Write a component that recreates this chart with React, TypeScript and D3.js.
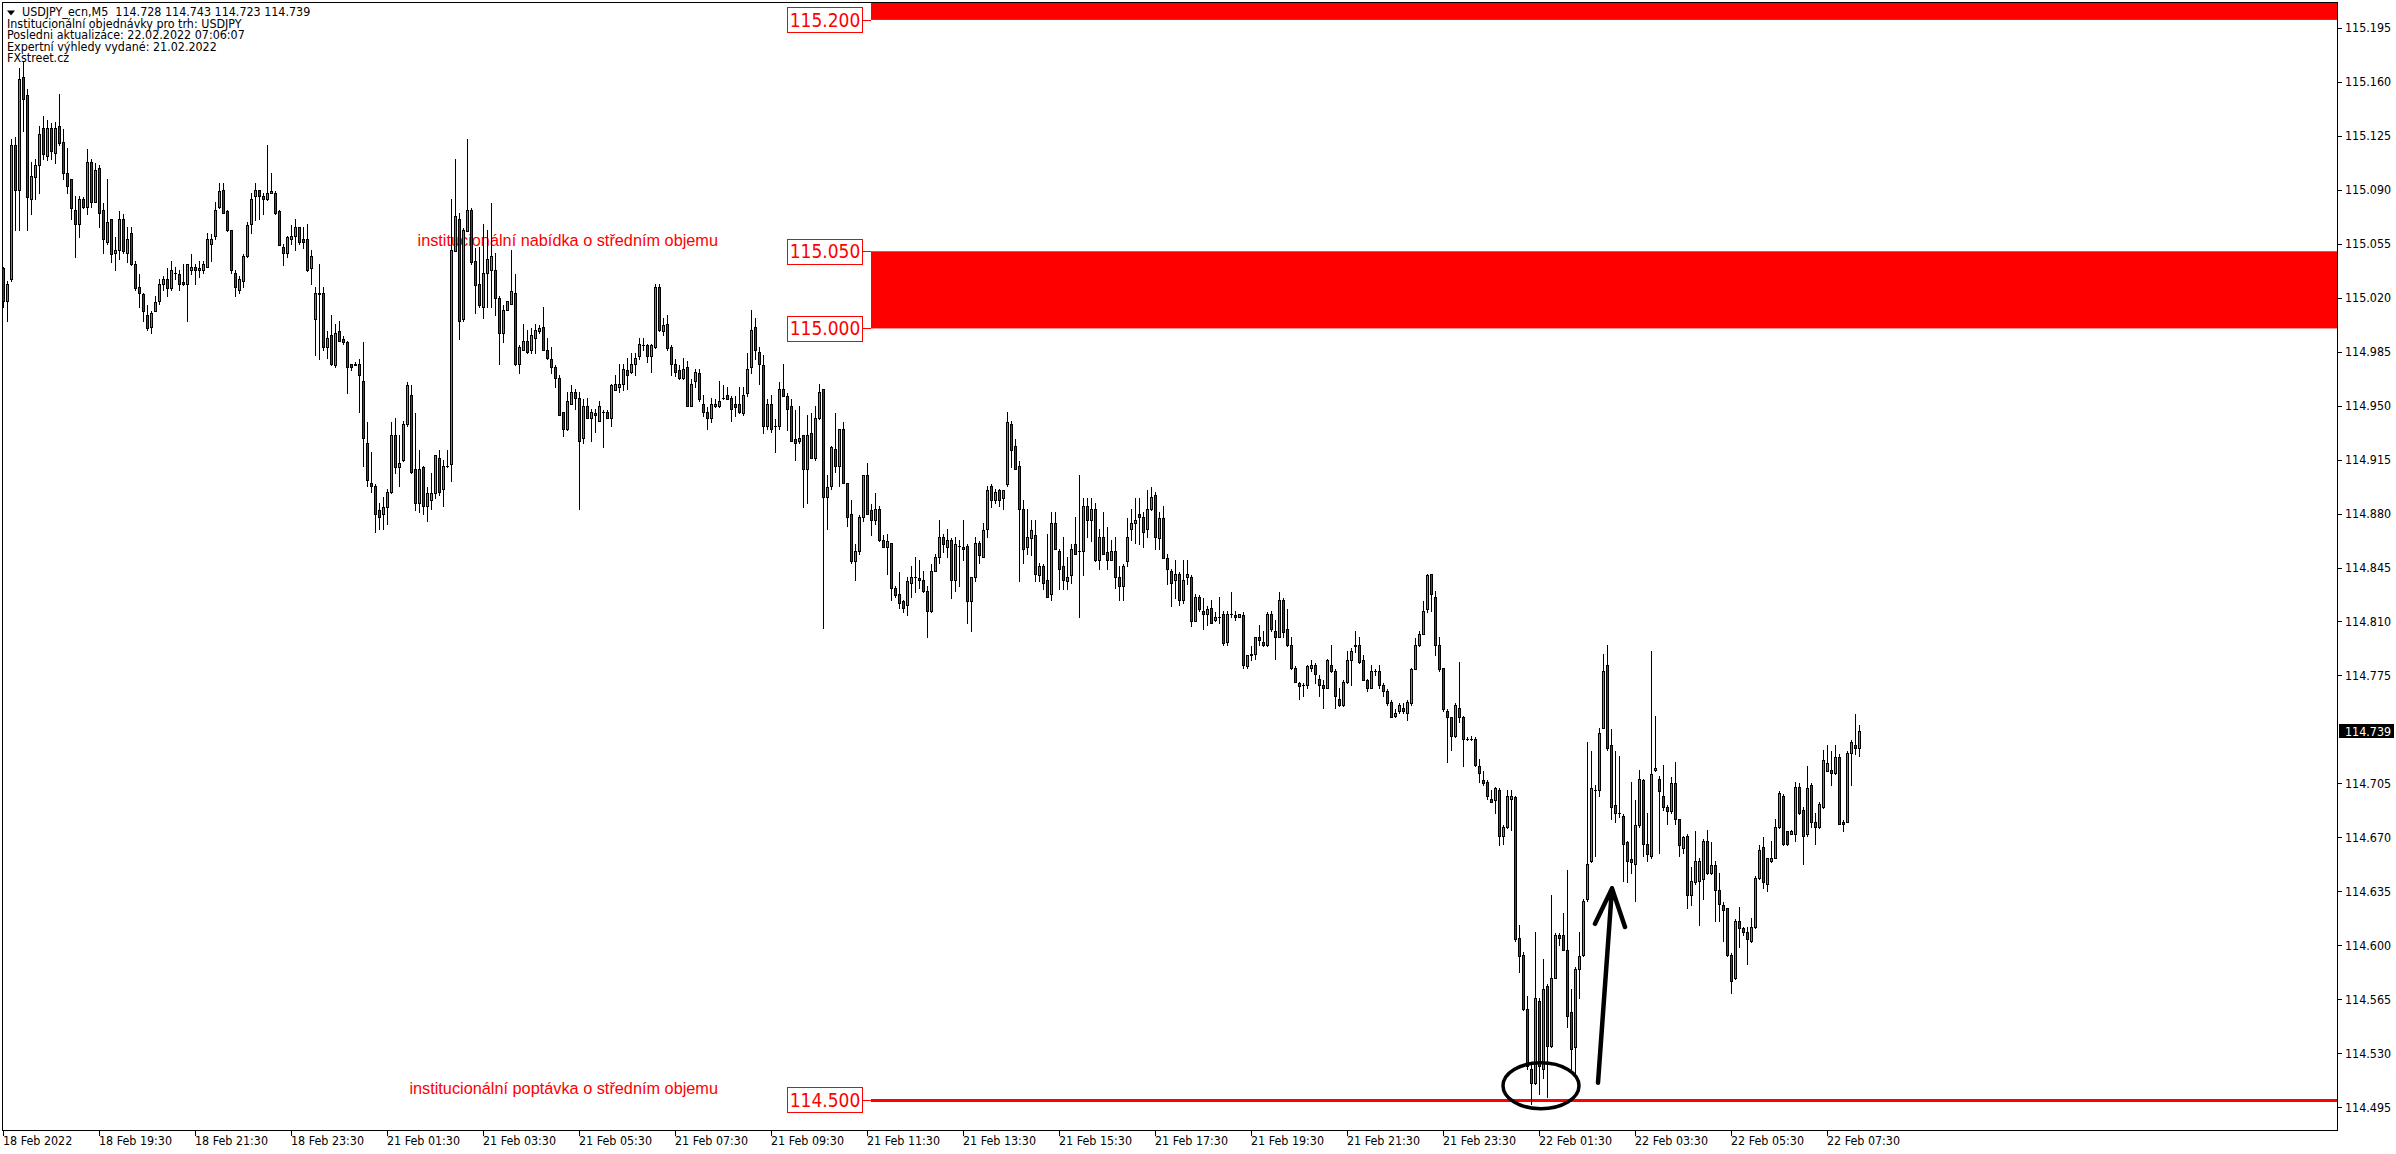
import React from 'react';
import * as d3 from 'd3';

// ---------- DATA ----------
const HEADER_LINES = [
  'USDJPY_ecn,M5  114.728 114.743 114.723 114.739',
  'Institucionální objednávky pro trh: USDJPY',
  'Posledni aktualizace: 22.02.2022 07:06:07',
  'Expertní výhledy vydané: 21.02.2022',
  'FXstreet.cz',
];

const TIME_LABELS = [
  '18 Feb 2022', '18 Feb 19:30', '18 Feb 21:30', '18 Feb 23:30', '21 Feb 01:30', '21 Feb 03:30',
  '21 Feb 05:30', '21 Feb 07:30', '21 Feb 09:30', '21 Feb 11:30', '21 Feb 13:30', '21 Feb 15:30',
  '21 Feb 17:30', '21 Feb 19:30', '21 Feb 21:30', '21 Feb 23:30', '22 Feb 01:30', '22 Feb 03:30',
  '22 Feb 05:30', '22 Feb 07:30',
];
const TIME_LABEL_BARS = [0, 24, 48, 72, 96, 120, 144, 168, 192, 216, 240, 264, 288, 312, 336, 360, 384, 408, 432, 456];

const PRICE_TICKS = [
  115.195, 115.16, 115.125, 115.09, 115.055, 115.02, 114.985, 114.95, 114.915, 114.88, 114.845,
  114.81, 114.775, 114.705, 114.67, 114.635, 114.6, 114.565, 114.53, 114.495,
];
const LAST_PRICE = 114.739;

const ZONE_LOW = [115.2, 115.0];
const ZONE_HIGH = [115.26, 115.05];
const ZONE_LABELS = ['115.200', '115.050', '115.000'];
const ZONE_LABEL_LEVELS = [115.2, 115.05, 115.0];
const DEMAND_LEVEL = 114.5;
const DEMAND_LABEL = '114.500';
const ZONE_START_BAR = 217;

const NOTE_SUPPLY = 'institucionální nabídka o středním objemu';
const NOTE_DEMAND = 'institucionální poptávka o středním objemu';

const OPEN = [
115.039,115.018,115.032,115.119,115.090,115.163,115.151,115.084,115.098,115.106,
115.130,115.112,115.130,115.114,115.131,115.121,115.101,115.097,115.077,115.068,
115.084,115.079,115.108,115.082,115.104,115.077,115.056,115.071,115.049,115.051,
115.071,115.049,115.062,115.042,115.027,115.022,115.009,115.001,115.011,115.018,
115.029,115.032,115.026,115.036,115.035,115.030,115.029,115.038,115.040,115.038,
115.038,115.040,115.055,115.060,115.079,115.090,115.076,115.064,115.036,115.025,
115.031,115.047,115.068,115.086,115.090,115.086,115.084,115.088,115.088,115.076,
115.053,115.049,115.058,115.060,115.066,115.058,115.058,115.039,115.006,115.023,
115.023,114.988,114.996,114.976,114.998,114.993,114.991,114.977,114.976,114.977,
114.966,114.926,114.900,114.898,114.882,114.880,114.884,114.894,114.931,114.910,
114.915,114.938,114.957,114.909,114.887,114.910,114.885,114.889,114.893,114.916,
114.896,114.911,114.912,115.050,115.071,115.006,115.063,115.077,115.044,115.029,
115.014,115.036,115.038,115.038,115.020,114.997,115.012,115.016,115.023,114.977,
114.986,114.992,114.986,114.994,114.998,115.001,114.986,114.980,114.975,114.968,
114.946,114.935,114.951,114.959,114.955,114.929,114.950,114.942,114.945,114.940,
114.946,114.946,114.942,114.960,114.962,114.964,114.973,114.972,114.977,114.982,
114.989,114.989,114.982,114.988,115.027,114.998,115.003,114.988,114.977,114.973,
114.968,114.975,114.950,114.966,114.971,114.951,114.946,114.942,114.950,114.950,
114.955,114.957,114.955,114.951,114.951,114.945,114.958,114.975,115.001,114.985,
114.976,114.937,114.951,114.937,114.937,114.961,114.956,114.950,114.928,114.927,
114.931,114.909,114.932,114.916,114.942,114.961,114.891,114.898,114.922,114.911,
114.935,114.900,114.880,114.849,114.856,114.878,114.905,114.882,114.876,114.883,
114.863,114.858,114.861,114.832,114.828,114.823,114.821,114.835,114.839,114.838,
114.837,114.830,114.817,114.843,114.852,114.865,114.858,114.863,114.837,114.859,
114.858,114.859,114.823,114.839,114.861,114.852,114.870,114.898,114.889,114.895,
114.890,114.899,114.938,114.924,114.911,114.883,114.858,114.864,114.866,114.840,
114.846,114.837,114.828,114.874,114.856,114.846,114.836,114.840,114.860,114.856,
114.856,114.885,114.876,114.883,114.850,114.865,114.855,114.850,114.856,114.839,
114.833,114.849,114.870,114.874,114.880,114.878,114.870,114.883,114.892,114.864,
114.877,114.851,114.843,114.837,114.841,114.824,114.839,114.839,114.810,114.826,
114.817,114.815,114.819,114.811,114.813,114.815,114.797,114.815,114.814,114.813,
114.814,114.781,114.788,114.789,114.800,114.797,114.795,114.815,114.804,114.800,
114.824,114.805,114.795,114.780,114.770,114.769,114.769,114.780,114.782,114.773,
114.769,114.767,114.782,114.778,114.760,114.756,114.771,114.785,114.794,114.795,
114.785,114.772,114.767,114.778,114.778,114.769,114.765,114.758,114.749,114.752,
114.754,114.751,114.757,114.779,114.795,114.802,114.818,114.841,114.826,114.795,
114.780,114.752,114.748,114.736,114.754,114.748,114.734,114.734,114.734,114.716,
114.707,114.706,114.695,114.694,114.701,114.671,114.677,114.695,114.696,114.605,
114.594,114.559,114.520,114.511,114.564,114.520,114.574,114.535,114.579,114.607,
114.607,114.597,114.557,114.534,114.585,114.594,114.630,114.655,114.701,114.701,
114.741,114.782,114.730,114.691,114.686,114.684,114.667,114.656,114.653,114.678,
114.707,114.666,114.658,114.714,114.708,114.697,114.690,114.687,114.705,114.682,
114.663,114.671,114.633,114.641,114.642,114.643,114.668,114.647,114.652,114.636,
114.626,114.624,114.594,114.579,114.616,114.611,114.609,114.603,114.612,114.644,
114.664,114.640,114.655,114.657,114.677,114.697,114.674,114.672,114.672,114.703,
114.688,114.672,114.704,114.680,114.677,114.690,114.713,114.714,114.712,114.722,
114.680,114.680,114.725,114.730,114.728,
];

const HIGH = [
115.040,115.031,115.123,115.124,115.169,115.173,115.155,115.108,115.110,115.131,
115.138,115.135,115.133,115.134,115.152,115.129,115.117,115.097,115.086,115.086,
115.085,115.116,115.110,115.107,115.106,115.081,115.097,115.071,115.059,115.076,
115.074,115.066,115.066,115.044,115.035,115.023,115.015,115.011,115.021,115.032,
115.034,115.039,115.044,115.040,115.038,115.042,115.042,115.048,115.042,115.044,
115.044,115.062,115.061,115.082,115.094,115.094,115.077,115.064,115.038,115.034,
115.048,115.069,115.088,115.094,115.090,115.088,115.119,115.101,115.089,115.077,
115.055,115.060,115.067,115.071,115.066,115.066,115.068,115.051,115.027,115.042,
115.027,114.998,115.009,115.003,115.005,114.995,114.992,114.977,114.978,114.980,
114.991,114.939,114.920,114.899,114.887,114.891,114.896,114.939,114.942,114.931,
114.940,114.965,114.963,114.945,114.921,114.911,114.897,114.906,114.918,114.921,
114.915,114.921,115.084,115.110,115.075,115.065,115.123,115.078,115.052,115.053,
115.068,115.064,115.081,115.049,115.021,115.015,115.018,115.051,115.035,114.989,
115.003,114.999,115.000,115.003,115.002,115.014,114.994,114.988,114.976,114.970,
114.946,114.959,114.963,114.961,114.959,114.954,114.955,114.948,114.948,114.953,
114.947,114.947,114.964,114.970,114.977,114.977,114.981,114.984,114.984,114.994,
114.994,114.990,114.990,115.029,115.029,115.007,115.009,114.989,114.980,114.976,
114.981,114.979,114.967,114.974,114.974,114.957,114.949,114.955,114.954,114.966,
114.963,114.962,114.956,114.956,114.962,114.962,114.984,115.012,115.007,114.988,
114.983,114.954,114.957,114.941,114.965,114.977,114.958,114.954,114.947,114.950,
114.931,114.944,114.945,114.950,114.964,114.961,114.905,114.924,114.945,114.935,
114.939,114.900,114.889,114.860,114.879,114.905,114.913,114.886,114.893,114.885,
114.866,114.867,114.861,114.833,114.842,114.824,114.839,114.846,114.852,114.850,
114.843,114.833,114.847,114.854,114.876,114.867,114.870,114.864,114.865,114.863,
114.876,114.860,114.839,114.865,114.862,114.874,114.898,114.899,114.896,114.896,
114.895,114.946,114.940,114.928,114.914,114.889,114.883,114.876,114.876,114.848,
114.847,114.867,114.881,114.881,114.857,114.865,114.852,114.860,114.878,114.905,
114.890,114.890,114.890,114.887,114.870,114.881,114.871,114.863,114.865,114.846,
114.847,114.877,114.883,114.890,114.890,114.881,114.895,114.897,114.894,114.881,
114.885,114.854,114.844,114.850,114.842,114.850,114.850,114.840,114.828,114.827,
114.825,114.820,114.824,114.816,114.826,114.817,114.817,114.829,114.817,114.815,
114.816,114.788,114.794,114.800,114.808,114.804,114.816,114.817,114.811,114.829,
114.825,114.818,114.800,114.781,114.771,114.770,114.782,114.785,114.783,114.775,
114.772,114.786,114.795,114.779,114.767,114.772,114.791,114.793,114.804,114.800,
114.788,114.773,114.782,114.779,114.782,114.770,114.766,114.759,114.753,114.757,
114.757,114.759,114.780,114.799,114.804,114.823,114.841,114.841,114.830,114.800,
114.780,114.753,114.748,114.757,114.784,114.749,114.735,114.736,114.735,114.721,
114.713,114.707,114.701,114.703,114.702,114.678,114.701,114.701,114.697,114.613,
114.596,114.567,114.523,114.609,114.566,114.591,114.575,114.633,114.608,114.608,
114.621,114.649,114.572,114.586,114.609,114.630,114.732,114.726,114.704,114.741,
114.789,114.795,114.740,114.726,114.723,114.685,114.668,114.706,114.694,114.714,
114.708,114.686,114.791,114.749,114.710,114.717,114.691,114.709,114.719,114.682,
114.671,114.672,114.651,114.674,114.657,114.669,114.675,114.667,114.655,114.647,
114.628,114.624,114.595,114.617,114.625,114.612,114.612,114.618,114.645,114.665,
114.670,114.657,114.668,114.682,114.700,114.698,114.674,114.675,114.706,114.705,
114.690,114.716,114.705,114.686,114.693,114.727,114.730,114.726,114.730,114.724,
114.681,114.726,114.733,114.750,114.743,
];

const LOW = [
115.014,115.005,115.031,115.064,115.064,115.128,115.064,115.074,115.084,115.088,
115.110,115.109,115.110,115.107,115.119,115.097,115.088,115.071,115.046,115.059,
115.078,115.074,115.079,115.082,115.066,115.049,115.055,115.043,115.038,115.045,
115.049,115.043,115.041,115.025,115.014,115.005,114.999,114.997,115.011,115.016,
115.025,115.021,115.025,115.032,115.025,115.028,115.005,115.035,115.029,115.033,
115.036,115.040,115.044,115.058,115.078,115.075,115.063,115.036,115.021,115.023,
115.027,115.046,115.062,115.070,115.071,115.074,115.083,115.088,115.074,115.054,
115.041,115.046,115.055,115.051,115.055,115.052,115.037,115.029,114.983,114.980,
114.986,114.981,114.976,114.975,114.992,114.990,114.958,114.973,114.976,114.946,
114.911,114.898,114.894,114.868,114.870,114.870,114.873,114.893,114.906,114.898,
114.914,114.937,114.906,114.882,114.881,114.880,114.875,114.883,114.890,114.892,
114.885,114.910,114.901,115.050,114.993,115.005,115.063,115.042,115.010,115.014,
115.007,115.014,115.014,115.009,114.977,114.991,115.012,115.016,114.976,114.971,
114.986,114.984,114.984,114.984,114.997,114.986,114.980,114.971,114.962,114.944,
114.930,114.934,114.951,114.948,114.883,114.926,114.942,114.927,114.933,114.940,
114.923,114.942,114.937,114.960,114.959,114.960,114.961,114.971,114.970,114.980,
114.986,114.978,114.972,114.987,114.998,114.996,114.986,114.970,114.969,114.967,
114.967,114.950,114.950,114.962,114.953,114.943,114.935,114.939,114.949,114.949,
114.954,114.954,114.940,114.943,114.945,114.944,114.956,114.971,114.980,114.964,
114.932,114.935,114.933,114.920,114.935,114.956,114.934,114.927,114.915,114.926,
114.884,114.887,114.916,114.915,114.941,114.806,114.870,114.896,114.907,114.898,
114.900,114.872,114.848,114.837,114.854,114.875,114.880,114.866,114.873,114.862,
114.858,114.841,114.824,114.826,114.819,114.816,114.814,114.826,114.829,114.832,
114.829,114.800,114.816,114.843,114.848,114.855,114.852,114.825,114.830,114.833,
114.850,114.809,114.804,114.836,114.848,114.852,114.865,114.884,114.887,114.885,
114.883,114.898,114.910,114.909,114.836,114.848,114.854,114.853,114.836,114.836,
114.831,114.826,114.824,114.857,114.831,114.831,114.831,114.835,114.854,114.813,
114.840,114.865,114.862,114.849,114.844,114.854,114.844,114.850,114.832,114.824,
114.824,114.846,114.863,114.861,114.860,114.858,114.865,114.882,114.857,114.857,
114.851,114.834,114.820,114.825,114.821,114.822,114.834,114.807,114.810,114.817,
114.805,114.808,114.809,114.810,114.809,114.795,114.795,114.813,114.811,114.813,
114.780,114.780,114.785,114.786,114.795,114.794,114.794,114.804,114.786,114.800,
114.800,114.794,114.779,114.771,114.760,114.762,114.767,114.778,114.770,114.762,
114.754,114.767,114.777,114.754,114.755,114.755,114.770,114.769,114.790,114.783,
114.772,114.765,114.767,114.775,114.767,114.762,114.756,114.748,114.748,114.751,
114.751,114.746,114.756,114.779,114.794,114.802,114.816,114.817,114.788,114.778,
114.752,114.719,114.727,114.735,114.745,114.716,114.733,114.733,114.716,114.706,
114.704,114.695,114.693,114.686,114.665,114.666,114.676,114.675,114.603,114.583,
114.558,114.520,114.497,114.510,114.504,114.514,114.502,114.534,114.579,114.600,
114.597,114.547,114.520,114.516,114.566,114.593,114.629,114.654,114.658,114.697,
114.741,114.727,114.682,114.680,114.683,114.642,114.641,114.647,114.629,114.677,
114.658,114.655,114.657,114.713,114.660,114.688,114.679,114.686,114.679,114.658,
114.660,114.624,114.626,114.640,114.613,114.630,114.646,114.646,114.616,114.616,
114.603,114.593,114.569,114.578,114.599,114.607,114.588,114.602,114.611,114.643,
114.637,114.635,114.654,114.657,114.676,114.665,114.665,114.672,114.668,114.685,
114.653,114.671,114.677,114.666,114.676,114.689,114.713,114.704,114.711,114.679,
114.674,114.680,114.704,114.724,114.723,
];

const CLOSE = [
115.018,115.029,115.119,115.090,115.162,115.149,115.085,115.099,115.106,115.126,
115.113,115.130,115.115,115.130,115.120,115.101,115.092,115.078,115.068,115.084,
115.079,115.108,115.082,115.103,115.075,115.058,115.069,115.048,115.051,115.071,
115.050,115.058,115.042,115.026,115.023,115.011,115.000,115.010,115.017,115.029,
115.032,115.026,115.038,115.036,115.029,115.029,115.042,115.040,115.038,115.039,
115.042,115.058,115.058,115.077,115.089,115.075,115.064,115.038,115.027,115.032,
115.047,115.067,115.084,115.090,115.086,115.084,115.088,115.089,115.075,115.054,
115.049,115.059,115.060,115.066,115.056,115.056,115.038,115.047,115.023,115.022,
114.988,114.994,114.977,114.997,114.992,114.991,114.975,114.975,114.977,114.970,
114.929,114.902,114.898,114.880,114.878,114.884,114.894,114.931,114.910,114.913,
114.938,114.963,114.907,114.887,114.909,114.885,114.893,114.893,114.918,114.894,
114.911,114.911,115.051,115.073,115.005,115.064,115.077,115.043,115.028,115.015,
115.036,115.045,115.047,115.020,114.997,115.012,115.018,115.024,114.977,114.988,
114.992,114.985,114.996,114.999,115.000,114.986,114.981,114.975,114.968,114.944,
114.935,114.953,114.959,114.955,114.927,114.950,114.942,114.946,114.944,114.950,
114.946,114.942,114.963,114.964,114.964,114.974,114.970,114.977,114.981,114.990,
114.989,114.982,114.989,115.027,114.999,115.002,114.987,114.977,114.972,114.968,
114.974,114.950,114.964,114.972,114.954,114.946,114.942,114.951,114.951,114.953,
114.955,114.954,114.948,114.949,114.946,114.957,114.974,114.999,114.986,114.977,
114.937,114.951,114.935,114.937,114.961,114.956,114.948,114.927,114.926,114.929,
114.909,114.931,114.916,114.942,114.959,114.891,114.897,114.923,114.911,114.935,
114.900,114.878,114.849,114.856,114.878,114.905,114.880,114.876,114.883,114.863,
114.858,114.862,114.832,114.827,114.822,114.819,114.836,114.839,114.839,114.837,
114.830,114.817,114.843,114.852,114.865,114.860,114.863,114.837,114.860,114.859,
114.857,114.823,114.839,114.861,114.853,114.869,114.895,114.889,114.894,114.889,
114.895,114.939,114.921,114.909,114.883,114.857,114.865,114.869,114.841,114.846,
114.835,114.826,114.874,114.857,114.844,114.837,114.839,114.857,114.854,114.856,
114.885,114.876,114.883,114.850,114.865,114.854,114.850,114.856,114.839,114.833,
114.846,114.865,114.874,114.876,114.878,114.868,114.883,114.891,114.865,114.877,
114.851,114.844,114.835,114.841,114.824,114.837,114.841,114.810,114.826,114.818,
114.815,114.818,114.809,114.813,114.813,114.796,114.815,114.815,114.813,114.815,
114.782,114.788,114.789,114.800,114.798,114.795,114.815,114.805,114.800,114.824,
114.803,114.795,114.780,114.771,114.768,114.769,114.781,114.782,114.776,114.769,
114.767,114.785,114.778,114.762,114.756,114.771,114.785,114.791,114.795,114.784,
114.772,114.767,114.778,114.778,114.769,114.765,114.757,114.748,114.751,114.756,
114.752,114.758,114.779,114.795,114.802,114.817,114.840,114.828,114.795,114.779,
114.753,114.748,114.736,114.756,114.748,114.734,114.734,114.734,114.717,114.712,
114.705,114.697,114.693,114.702,114.671,114.677,114.697,114.697,114.604,114.593,
114.559,114.522,114.511,114.566,114.522,114.572,114.535,114.579,114.607,114.605,
114.597,114.554,114.533,114.585,114.593,114.629,114.653,114.702,114.701,114.738,
114.778,114.728,114.690,114.686,114.686,114.666,114.655,114.654,114.678,114.708,
114.666,114.659,114.711,114.715,114.700,114.690,114.687,114.705,114.682,114.665,
114.670,114.633,114.642,114.655,114.655,114.668,114.647,114.652,114.636,114.627,
114.623,114.594,114.577,114.616,114.611,114.609,114.604,114.612,114.644,114.662,
114.641,114.657,114.657,114.677,114.699,114.666,114.666,114.674,114.703,114.686,
114.671,114.702,114.680,114.677,114.692,114.720,114.718,114.712,114.722,114.679,
114.679,114.725,114.732,114.728,114.739,
];

// annotation anchors (bar index, price)
const ELLIPSE_AT = { bar: 384.5, price: 114.509 };
const ARROW_FROM = { bar: 398.75, price: 114.511 };
const ARROW_TO = { bar: 402.25, price: 114.637 };
const ARROW_WING_L = { bar: 398.0, price: 114.614 };
const ARROW_WING_R = { bar: 405.5, price: 114.612 };

// ---------- STYLE ----------
const W = 2396;
const H = 1154;
const PLOT_LEFT = 2;
const PLOT_TOP = 2;
const PLOT_RIGHT = 2337;
const PLOT_BOTTOM = 1130;
const BULL = '#32B432';
const BEAR = '#E60000';
const ZONE = '#FF0000';
const UI_FONT = "'DejaVu Sans Condensed', 'DejaVu Sans', sans-serif";

export default function App() {
  const n = OPEN.length;
  const x = d3.scaleLinear().domain([0, n - 1]).range([3, 3 + 4 * (n - 1)]);
  const y = d3.scaleLinear().domain([114.495, 115.195]).range([1107.4, 27.6]);
  const py = (p: number) => Math.round(y(p));

  const candles = d3.range(n).map((i) => {
    const c = Math.round(x(i));
    const o = OPEN[i], cl = CLOSE[i];
    const top = py(Math.max(o, cl));
    const bot = py(Math.min(o, cl));
    const hi = py(HIGH[i]);
    const lo = py(LOW[i]);
    const h = Math.max(1, bot - top + 1);
    const bull = cl >= o;
    return (
      <g key={i}>
        <rect x={c} y={hi} width={1} height={Math.max(1, lo - hi + 1)} fill="#000" />
        <rect x={c - 1} y={top} width={3} height={h} fill="#000" />
        {h >= 3 && <rect x={c} y={top + 1} width={1} height={h - 2} fill={bull ? BULL : BEAR} />}
      </g>
    );
  });

  const zoneX = Math.round(x(ZONE_START_BAR));
  const boxRight = zoneX - 9;
  const boxW = 75;
  const boxH = 25;

  const levelBox = (label: string, level: number, key: string) => {
    const ly = y(level);
    return (
      <g key={key}>
        <line x1={boxRight} x2={zoneX} y1={Math.round(ly) + 0.5} y2={Math.round(ly) + 0.5} stroke={ZONE} strokeWidth={1} />
        <rect x={boxRight - boxW + 0.5} y={Math.round(ly - boxH / 2) + 0.5} width={boxW} height={boxH} fill="#fff" stroke={ZONE} strokeWidth={1} />
        <text x={boxRight - boxW / 2 + 0.5} y={ly + 7} textAnchor="middle" fontFamily={UI_FONT} fontSize={19} fill={ZONE}>{label}</text>
      </g>
    );
  };

  const lastY = y(LAST_PRICE);

  return (
    <svg width={W} height={H} style={{ position: 'absolute', left: 0, top: 0, background: '#fff' }} xmlns="http://www.w3.org/2000/svg">
      <rect x={0} y={0} width={W} height={H} fill="#fff" />

      {/* zones */}
      {ZONE_LOW.map((lo, i) => {
        const yTop = Math.max(PLOT_TOP + 1, y(ZONE_HIGH[i]));
        const yBot = y(lo);
        return <rect key={'z' + i} x={zoneX} y={yTop} width={PLOT_RIGHT - zoneX} height={yBot - yTop} fill={ZONE} />;
      })}
      <rect x={zoneX} y={Math.round(y(DEMAND_LEVEL)) - 1} width={PLOT_RIGHT - zoneX} height={3} fill={ZONE} />

      {/* zone labels */}
      {ZONE_LABELS.map((lab, i) => levelBox(lab, ZONE_LABEL_LEVELS[i], 'lb' + i))}
      {levelBox(DEMAND_LABEL, DEMAND_LEVEL, 'lbd')}

      {/* notes (behind candles) */}
      <text x={718} y={246} textAnchor="end" fontFamily="'Liberation Sans', Arial, sans-serif" fontSize={16.3} fill={ZONE}>{NOTE_SUPPLY}</text>
      <text x={718} y={1094} textAnchor="end" fontFamily="'Liberation Sans', Arial, sans-serif" fontSize={16.3} fill={ZONE}>{NOTE_DEMAND}</text>

      {/* candles */}
      {candles}

      {/* annotations */}
      <ellipse cx={x(ELLIPSE_AT.bar)} cy={y(ELLIPSE_AT.price)} rx={38} ry={23} fill="none" stroke="#000" strokeWidth={3.5} />
      <path
        d={`M${x(ARROW_FROM.bar)},${y(ARROW_FROM.price)} L${x(ARROW_TO.bar)},${y(ARROW_TO.price)} M${x(ARROW_WING_L.bar)},${y(ARROW_WING_L.price)} L${x(ARROW_TO.bar)},${y(ARROW_TO.price)} L${x(ARROW_WING_R.bar)},${y(ARROW_WING_R.price)}`}
        fill="none" stroke="#000" strokeWidth={4.5} strokeLinecap="round" strokeLinejoin="round"
      />

      {/* frame */}
      <line x1={PLOT_LEFT + 0.5} x2={PLOT_LEFT + 0.5} y1={PLOT_TOP} y2={PLOT_BOTTOM + 1} stroke="#000" />
      <line x1={PLOT_LEFT} x2={PLOT_RIGHT + 1} y1={PLOT_TOP + 0.5} y2={PLOT_TOP + 0.5} stroke="#000" />
      <line x1={PLOT_RIGHT + 0.5} x2={PLOT_RIGHT + 0.5} y1={PLOT_TOP} y2={PLOT_BOTTOM + 1} stroke="#000" />
      <line x1={PLOT_LEFT} x2={PLOT_RIGHT + 1} y1={PLOT_BOTTOM + 0.5} y2={PLOT_BOTTOM + 0.5} stroke="#000" />

      {/* right price axis */}
      {PRICE_TICKS.map((v) => (
        <g key={'p' + v}>
          <line x1={PLOT_RIGHT + 1} x2={PLOT_RIGHT + 5} y1={py(v) + 0.5} y2={py(v) + 0.5} stroke="#000" />
          <text x={PLOT_RIGHT + 8} y={y(v) + 4.5} fontFamily={UI_FONT} fontSize={12.4} fill="#000">{v.toFixed(3)}</text>
        </g>
      ))}
      <rect x={PLOT_RIGHT + 2} y={Math.round(lastY) - 7} width={55} height={14} fill="#000" />
      <text x={PLOT_RIGHT + 8} y={lastY + 4.5} fontFamily={UI_FONT} fontSize={12.4} fill="#fff">{LAST_PRICE.toFixed(3)}</text>

      {/* time axis */}
      {TIME_LABELS.map((lab, i) => {
        const cx = Math.round(x(TIME_LABEL_BARS[i]));
        return (
          <g key={'t' + i}>
            <line x1={cx + 0.5} x2={cx + 0.5} y1={PLOT_BOTTOM + 1} y2={PLOT_BOTTOM + 6} stroke="#000" />
            <text x={cx} y={1145} fontFamily={UI_FONT} fontSize={12.4} fill="#000">{lab}</text>
          </g>
        );
      })}

      {/* header */}
      <polygon points="7,10.5 15,10.5 11,15.5" fill="#000" />
      {HEADER_LINES.map((line, i) => (
        <text key={'h' + i} x={i === 0 ? 22 : 7} y={[16, 28, 39, 50.5, 62][i]} fontFamily={UI_FONT} fontSize={12.4} fill="#000" style={{ whiteSpace: 'pre' }}>{line}</text>
      ))}
    </svg>
  );
}
